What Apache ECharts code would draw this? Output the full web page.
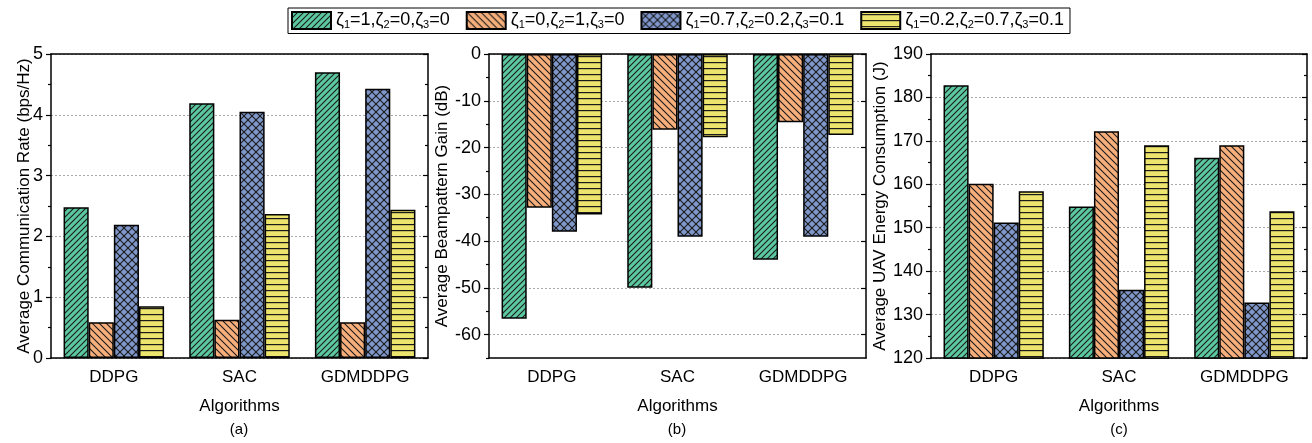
<!DOCTYPE html>
<html>
<head>
<meta charset="utf-8">
<script src="https://cdn.jsdelivr.net/npm/echarts@6/dist/echarts.min.js"></script>
<style>
  html, body { margin: 0; padding: 0; background: #fff; }
  #chart { width: 1312px; height: 443px; }
</style>
</head>
<body>
<div id="chart"></div>
<script>
// data
var categories = ['DDPG', 'SAC', 'GDMDDPG'];
var seriesNames = ['ζ1=1,ζ2=0,ζ3=0', 'ζ1=0,ζ2=1,ζ3=0', 'ζ1=0.7,ζ2=0.2,ζ3=0.1', 'ζ1=0.2,ζ2=0.7,ζ3=0.1'];

// (a) average communication rate (bps/Hz)
var rate1 = [2.48, 4.19, 4.70];
var rate2 = [0.59, 0.63, 0.59];
var rate3 = [2.19, 4.05, 4.43];
var rate4 = [0.85, 2.37, 2.44];

// (b) average beampattern gain (dB)
var gain1 = [-56.6, -50.0, -44.0];
var gain2 = [-32.9, -16.2, -14.6];
var gain3 = [-38.0, -39.1, -39.1];
var gain4 = [-34.3, -17.8, -17.3];
var gainTicks = [-60, -50, -40, -30, -20, -10, 0];
var gainMinorTicks = [-65, -55, -45, -35, -25, -15, -5];

// (c) average UAV energy consumption (J)
var energy1 = [182.8, 154.9, 166.1];
var energy2 = [160.1, 172.2, 169.0];
var energy3 = [151.2, 135.7, 132.8];
var energy4 = [158.4, 169.0, 153.8];

var FONT = 'Liberation Sans, Arial, sans-serif';

// hatch patterns like the original plot
function hatch(bg, kind) {
  var s = kind === 'cross' ? 8 : (kind === 'back' ? 7 : 6);
  var c = document.createElement('canvas');
  c.width = s; c.height = s;
  var g = c.getContext('2d');
  g.fillStyle = bg;
  g.fillRect(0, 0, s, s);
  g.strokeStyle = '#1a1a1a';
  g.lineWidth = 1.1;
  function seg(x1, y1, x2, y2) { g.beginPath(); g.moveTo(x1, y1); g.lineTo(x2, y2); g.stroke(); }
  if (kind === 'fwd' || kind === 'cross') {
    seg(-1, s + 1, s + 1, -1); seg(-2, 2, 2, -2); seg(s - 2, s + 2, s + 2, s - 2);
  }
  if (kind === 'back' || kind === 'cross') {
    seg(-1, -1, s + 1, s + 1); seg(-2, s - 2, 2, s + 2); seg(s - 2, -2, s + 2, 2);
  }
  if (kind === 'horiz') {
    g.fillStyle = '#1a1a1a';
    g.fillRect(0, 2, s, 1.2);
  }
  return { image: c, repeat: 'repeat' };
}

var fills = [
  hatch('#5cc8a0', 'fwd'),
  hatch('#f6ae7b', 'back'),
  hatch('#7f97cb', 'cross'),
  hatch('#ede46d', 'horiz')
];

var grids = [
  { left: 51, top: 54, width: 377, height: 304 },
  { left: 489, top: 54, width: 377, height: 304 },
  { left: 931, top: 54, width: 376, height: 304 }
];

var lineBlack = { color: '#000', width: 1.5 };
var labelStyle = { color: '#000', fontSize: 18, fontFamily: FONT };
var nameStyle = { color: '#000', fontSize: 17, fontFamily: FONT };
var gridLine = { show: true, lineStyle: { type: [2, 2], color: '#a8a8a8', width: 1 } };

var xAxes = [];
grids.forEach(function (g, i) {
  xAxes.push({
    gridIndex: i, type: 'category', data: categories, position: 'bottom',
    axisLine: { onZero: false, lineStyle: lineBlack },
    axisTick: { alignWithLabel: false, length: 5, lineStyle: { color: '#000', width: 1.2 } },
    axisLabel: { color: '#000', fontSize: 17, fontFamily: FONT, margin: 11 },
    splitLine: { show: false },
    name: 'Algorithms', nameLocation: 'middle', nameGap: 40, nameTextStyle: nameStyle,
    nameMoveOverlap: false
  });
  xAxes.push({
    gridIndex: i, type: 'category', data: categories, position: 'bottom',
    axisLine: { show: false },
    axisTick: { alignWithLabel: true, length: 5, lineStyle: { color: '#000', width: 1.2 } },
    axisLabel: { show: false }, splitLine: { show: false }
  });
  xAxes.push({
    gridIndex: i, type: 'category', data: categories, position: 'top',
    axisLine: { onZero: false, lineStyle: lineBlack },
    axisTick: { inside: true, length: 4, lineStyle: { color: '#000', width: 1.2 } },
    axisLabel: { show: false }, splitLine: { show: false }
  });
});

function leftAxis(i, min, max, interval, name, gap) {
  return {
    gridIndex: i, type: 'value', position: 'left', min: min, max: max, interval: interval,
    axisLine: { show: true, lineStyle: lineBlack },
    axisTick: { show: true, length: 5, lineStyle: { color: '#000', width: 1.2 } },
    minorTick: { show: true, splitNumber: 2, length: 3, lineStyle: { color: '#000', width: 1.2 } },
    axisLabel: Object.assign({ margin: 8 }, labelStyle),
    splitLine: gridLine,
    name: name, nameLocation: 'middle', nameGap: gap, nameTextStyle: nameStyle,
    nameMoveOverlap: false
  };
}
function rightAxis(i, min, max, interval) {
  return {
    gridIndex: i, type: 'value', position: 'right', min: min, max: max, interval: interval,
    axisLine: { show: true, lineStyle: lineBlack },
    axisTick: { show: true, inside: true, length: 5, lineStyle: { color: '#000', width: 1.2 } },
    minorTick: { show: true, splitNumber: 2, length: 3, lineStyle: { color: '#000', width: 1.2 } },
    axisLabel: { show: false }, splitLine: { show: false }
  };
}

var gainLeft = leftAxis(1, -65, 0, null, 'Average Beampattern Gain (dB)', 38);
delete gainLeft.interval;
gainLeft.minorTick = { show: false };
gainLeft.axisTick.customValues = gainTicks;
gainLeft.axisLabel.customValues = gainTicks;
var gainRight = rightAxis(1, -65, 0, null);
delete gainRight.interval;
gainRight.minorTick = { show: false };
gainRight.axisTick.customValues = gainTicks;

var yAxes = [
  leftAxis(0, 0, 5, 1, 'Average Communication Rate (bps/Hz)', 18),
  rightAxis(0, 0, 5, 1),
  gainLeft,
  gainRight,
  {
    gridIndex: 1, type: 'value', position: 'left', min: -65, max: 0,
    axisLine: { show: false },
    axisTick: { show: true, length: 3, customValues: gainMinorTicks, lineStyle: { color: '#000', width: 1.2 } },
    axisLabel: { show: false }, splitLine: { show: false }
  },
  leftAxis(2, 120, 190, 10, 'Average UAV Energy Consumption (J)', 42),
  rightAxis(2, 120, 190, 10)
];

var panels = [
  { x: 0, y: 0, data: [rate1, rate2, rate3, rate4] },
  { x: 3, y: 2, data: [gain1, gain2, gain3, gain4] },
  { x: 6, y: 5, data: [energy1, energy2, energy3, energy4] }
];

var series = [];
panels.forEach(function (p) {
  p.data.forEach(function (vals, k) {
    series.push({
      name: seriesNames[k], type: 'bar', xAxisIndex: p.x, yAxisIndex: p.y,
      data: vals, barGap: '0%', barCategoryGap: '20%',
      itemStyle: { color: fills[k], borderColor: '#000', borderWidth: 1.5 },
      emphasis: { disabled: true }
    });
  });
});

function zetaLabel(name) {
  return name.split(',').map(function (part) {
    var m = part.match(/^ζ(\d)=(.*)$/);
    return '{t|ζ}{s|' + m[1] + '}{t|=' + m[2] + '}';
  }).join('{t|,}');
}

var myChart = echarts.init(document.getElementById('chart'));
var option = {
  backgroundColor: '#fff',
  animation: false,
  legend: {
    data: seriesNames, left: 288, top: 8,
    itemWidth: 39, itemHeight: 17, itemGap: 16,
    padding: [3, 6, 3, 3],
    borderColor: '#000', borderWidth: 1,
    icon: 'rect',
    formatter: zetaLabel,
    textStyle: {
      color: '#000', fontFamily: FONT,
      rich: {
        t: { fontSize: 18, lineHeight: 20, fontFamily: FONT, color: '#000' },
        s: { fontSize: 11, lineHeight: 12, verticalAlign: 'bottom', fontFamily: FONT, color: '#000' }
      }
    }
  },
  grid: grids,
  xAxis: xAxes,
  yAxis: yAxes,
  series: series,
  graphic: [
    { type: 'text', x: 239, y: 422, style: { text: '(a)', align: 'center', verticalAlign: 'top', fontSize: 15, fontFamily: FONT, fill: '#000' } },
    { type: 'text', x: 677, y: 422, style: { text: '(b)', align: 'center', verticalAlign: 'top', fontSize: 15, fontFamily: FONT, fill: '#000' } },
    { type: 'text', x: 1119, y: 422, style: { text: '(c)', align: 'center', verticalAlign: 'top', fontSize: 15, fontFamily: FONT, fill: '#000' } }
  ]
};
myChart.setOption(option);
</script>
</body>
</html>
